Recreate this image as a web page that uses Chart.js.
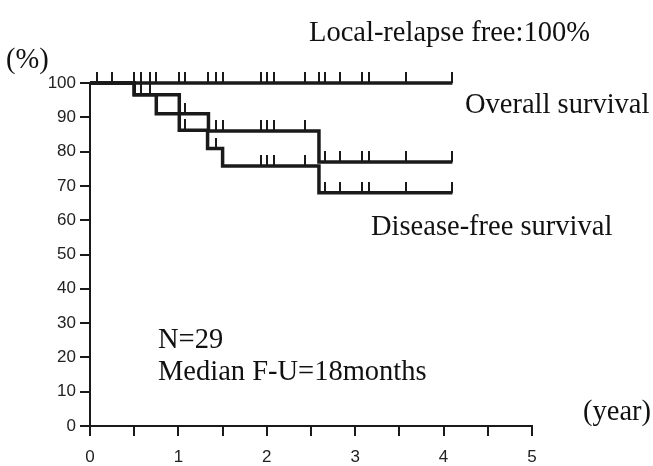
<!DOCTYPE html>
<html>
<head>
<meta charset="utf-8">
<title>Survival curves</title>
<script src="https://cdn.jsdelivr.net/npm/chart.js@4.4.1/dist/chart.umd.min.js"></script>
<style>
  html, body { margin: 0; padding: 0; background: #fff; }
  #wrap { width: 653px; height: 466px; }
</style>
</head>
<body>
<div id="wrap"><canvas id="chartCanvas" width="653" height="466"></canvas></div>
<script>
// --- data (x = years, y = %) ---
const lrfTimes = [0, 4.10];
const lrfValues = [100, 100];
const lrfCensor = [0.08, 0.25, 0.50, 0.58, 0.68, 0.75, 1.01, 1.08, 1.33, 1.42, 1.50,
                   1.93, 2.00, 2.08, 2.43, 2.59, 2.66, 2.83, 3.08, 3.16, 3.58, 4.10];

const osTimes = [0, 0.50, 0.75, 1.34, 2.59, 4.10];
const osValues = [100, 96.6, 91.0, 86.0, 77.0, 77.0];
const osCensor = [0.58, 0.68, 1.08, 1.42, 1.50, 1.93, 2.00, 2.08, 2.43,
                  2.66, 2.83, 3.08, 3.16, 3.58, 4.10];

const dfsTimes = [0, 0.50, 1.01, 1.33, 1.50, 2.59, 4.10];
const dfsValues = [100, 96.6, 86.2, 80.9, 75.8, 68.0, 68.0];
const dfsCensor = [0.58, 0.68, 1.08, 1.42, 1.93, 2.00, 2.08, 2.43,
                   2.66, 2.83, 3.08, 3.16, 3.58, 4.10];

const xTickValues = [0, 0.5, 1, 1.5, 2, 2.5, 3, 3.5, 4, 4.5, 5];
const xTickLabels = ["0", "", "1", "", "2", "", "3", "", "4", "", "5"];
const yTickValues = [0, 10, 20, 30, 40, 50, 60, 70, 80, 90, 100];
const yTickLabels = ["0", "10", "20", "30", "40", "50", "60", "70", "80", "90", "100"];

const noteTexts = ["Local-relapse free:100%", "Overall survival", "Disease-free survival",
                   "N=29", "Median F-U=18months", "(%)", "(year)"];

// --- helpers ---
const INK = "#1a1a1a";

// KM level of a curve at time t
function levelAt(times, values, t) {
  let v = values[0];
  for (let i = 0; i < times.length; i++) if (times[i] <= t) v = values[i];
  return v;
}

function stepPoints(times, values) {
  return times.map((t, i) => ({ x: t, y: values[i] }));
}

function censorPoints(times, values, marks) {
  return marks.map(t => ({ x: t, y: levelAt(times, values, t) }));
}

// censor mark: short vertical stroke sitting on top of the point
function makeTick(h) {
  const c = document.createElement("canvas");
  c.width = 2;
  c.height = h * 2;
  const g = c.getContext("2d");
  g.fillStyle = INK;
  g.fillRect(0, 0, 2, h);
  return c;
}
const tickMark = makeTick(11);

function curve(label, times, values) {
  return {
    label,
    data: stepPoints(times, values),
    stepped: true,
    borderColor: INK,
    borderWidth: 3.5,
    pointRadius: 0,
    fill: false,
    clip: false
  };
}

function censors(label, times, values, marks) {
  return {
    type: "scatter",
    label,
    data: censorPoints(times, values, marks),
    pointStyle: tickMark,
    pointRadius: 5,
    showLine: false,
    clip: false
  };
}

// free text on the figure
const notesPlugin = {
  id: "notes",
  afterDraw(chart) {
    const ctx = chart.ctx;
    const spots = [[309, 41], [465, 113], [371, 235], [158, 348], [158, 380], [6, 68], [583, 420]];
    ctx.save();
    ctx.font = '28.5px "Liberation Serif", "Times New Roman", serif';
    ctx.fillStyle = "#111";
    ctx.textBaseline = "alphabetic";
    ctx.textAlign = "left";
    noteTexts.forEach((t, i) => ctx.fillText(t, spots[i][0], spots[i][1]));
    ctx.restore();
  }
};

const tickFont = { family: '"Liberation Sans", Arial, sans-serif', size: 17 };

new Chart(document.getElementById("chartCanvas"), {
  type: "line",
  data: {
    datasets: [
      curve("Local-relapse free", lrfTimes, lrfValues),
      curve("Overall survival", osTimes, osValues),
      curve("Disease-free survival", dfsTimes, dfsValues),
      censors("LRF censored", lrfTimes, lrfValues, lrfCensor),
      censors("OS censored", osTimes, osValues, osCensor),
      censors("DFS censored", dfsTimes, dfsValues, dfsCensor)
    ]
  },
  options: {
    responsive: false,
    animation: false,
    events: [],
    layout: { padding: { top: 83, right: 121, left: 0, bottom: 0 } },
    plugins: {
      legend: { display: false },
      tooltip: { enabled: false }
    },
    scales: {
      x: {
        type: "linear",
        min: 0,
        max: 5,
        afterBuildTicks: s => { s.ticks = xTickValues.map(v => ({ value: v })); },
        afterFit: s => { s.height = 40; },
        ticks: {
          callback: (v, i) => xTickLabels[i],
          autoSkip: false,
          maxRotation: 0,
          padding: 11,
          color: "#222",
          font: tickFont
        },
        grid: { drawOnChartArea: false, color: INK, lineWidth: 2, tickLength: 10 },
        border: { color: INK, width: 2 }
      },
      y: {
        type: "linear",
        min: 0,
        max: 100,
        afterBuildTicks: s => { s.ticks = yTickValues.map(v => ({ value: v })); },
        afterFit: s => { s.width = 90; },
        ticks: {
          callback: (v, i) => yTickLabels[i],
          autoSkip: false,
          padding: 4,
          color: "#222",
          font: tickFont
        },
        grid: { drawOnChartArea: false, color: INK, lineWidth: 2, tickLength: 10 },
        border: { color: INK, width: 2 }
      }
    }
  },
  plugins: [notesPlugin]
});
</script>
</body>
</html>
